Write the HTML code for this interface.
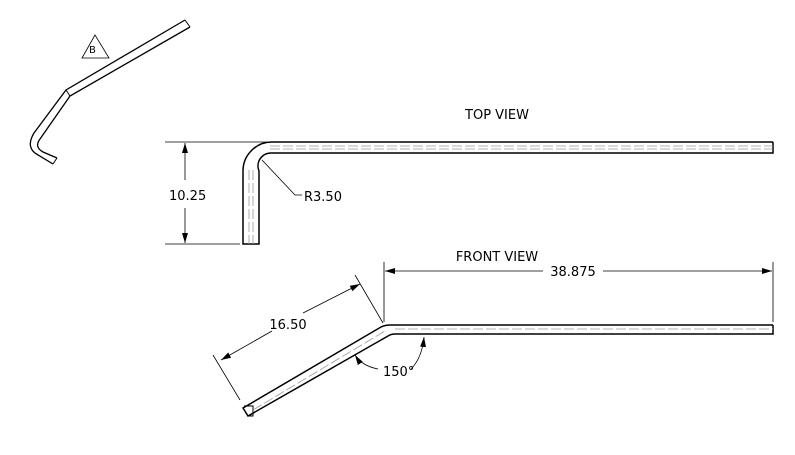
<!DOCTYPE html>
<html><head><style>
html,body{margin:0;padding:0;background:#fff;}
svg{display:block;font-family:"DejaVu Sans","Liberation Sans",sans-serif;}
</style></head><body>
<svg width="795" height="455" viewBox="0 0 795 455" xmlns="http://www.w3.org/2000/svg">
<defs>
<marker id="a" viewBox="0 0 10 6" refX="10" refY="3" markerWidth="10" markerHeight="6" orient="auto-start-reverse" markerUnits="userSpaceOnUse"><path d="M0,0 L10,3 L0,6 z" fill="#000"/></marker>
</defs>
<g fill="none" stroke="#000">
<!-- iso -->
<path d="M185,20 L66,90 L34,133 Q25,148 38,155 L53,164" stroke-width="1.3"/>
<path d="M190,27 L70,96 L40,139 Q34,147 43,152 L57,158" stroke-width="1.3"/>
<path d="M185,20 L190,27 M53,164 L57,158 M66,90 L70,96" stroke-width="1"/>
<path d="M95,35 L82,58 L109,58 Z" stroke-width="0.8"/>
<!-- top view -->
<path d="M773,142 L272,142 A29,29 0 0 0 243,171 L243,244 L259,244 L259,171 A13,13 0 0 1 272,153 L773,153 L773,142" stroke-width="1.5"/>
<path d="M270,146 L773,146 M270,149 L773,149 M249,170 L249,244 M253,170 L253,244" stroke="#999" stroke-width="0.8" stroke-dasharray="10,3"/>
<path d="M165,142 L270,142 M165,244 L240,244" stroke-width="0.8"/>
<line x1="185" y1="180" x2="185" y2="143" stroke-width="0.8" marker-end="url(#a)"/>
<line x1="185" y1="208" x2="185" y2="243" stroke-width="0.8" marker-end="url(#a)"/>
<path d="M262,160 L295,195 L302,195" stroke-width="0.8"/>
<!-- front view -->
<path d="M773,325 L390,325 Q385,325 381,327 L243,408 L248,416 L388,336 Q391,334 395,334 L773,334 L773,325" stroke-width="1.5"/>
<path d="M244,406 L253,406 L253,416 L248,416" stroke-width="1"/>
<path d="M395,329 L773,329 M253,410 L385,331" stroke="#999" stroke-width="0.8" stroke-dasharray="10,3"/>
<path d="M384,262 L384,322 M773,262 L773,322" stroke-width="0.8"/>
<line x1="543" y1="271" x2="385" y2="271" stroke-width="0.8" marker-end="url(#a)"/>
<line x1="603" y1="271" x2="772" y2="271" stroke-width="0.8" marker-end="url(#a)"/>
<path d="M355,275 L383,323 M213,355 L240,400" stroke-width="0.8"/>
<line x1="272" y1="331" x2="221" y2="360" stroke-width="0.8" marker-end="url(#a)"/>
<line x1="303" y1="313" x2="360" y2="284" stroke-width="0.8" marker-end="url(#a)"/>
<path d="M378,369 Q362,366 355,355" stroke-width="0.8" marker-end="url(#a)"/>
<path d="M411,369 Q422,358 424,337" stroke-width="0.8" marker-end="url(#a)"/>
</g>
<g font-size="13" fill="#000">
<text x="89" y="53" font-size="10">B</text>
<text x="497" y="119" text-anchor="middle">TOP VIEW</text>
<text x="169" y="200">10.25</text>
<text x="304" y="201">R3.50</text>
<text x="497" y="261" text-anchor="middle">FRONT VIEW</text>
<text x="573" y="276" text-anchor="middle">38.875</text>
<text x="288" y="329" text-anchor="middle">16.50</text>
<text x="383" y="376">150°</text>
</g>
</svg>
</body></html>
